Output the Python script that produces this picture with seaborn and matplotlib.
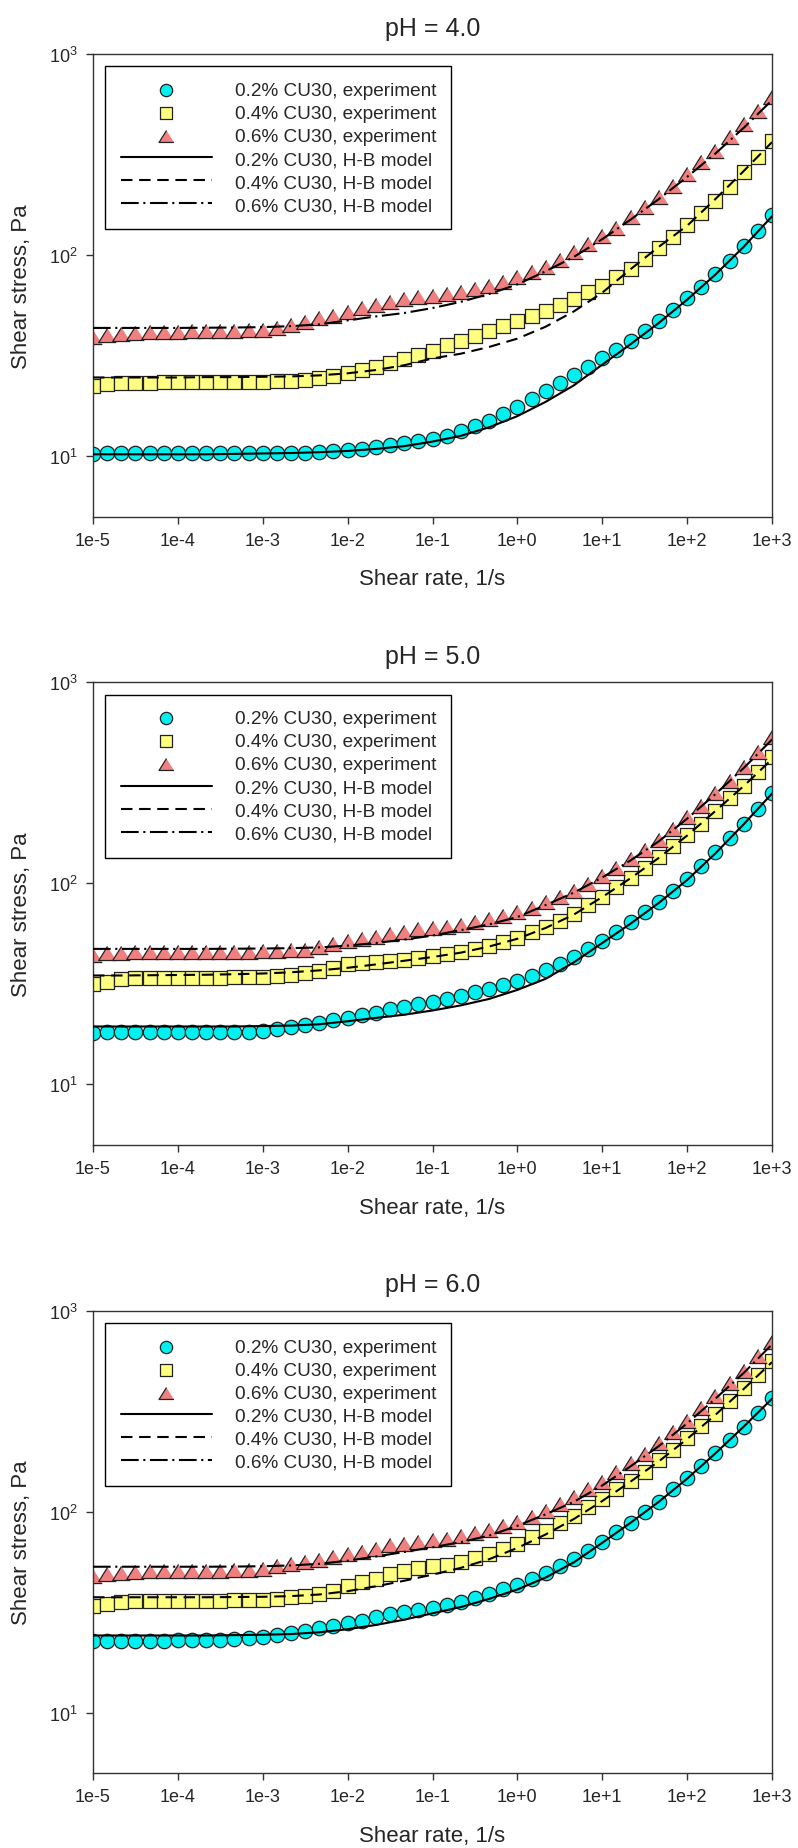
import numpy as np
import pandas as pd
import seaborn as sns
import matplotlib.pyplot as plt
from matplotlib.ticker import FixedLocator, NullLocator

sns.set_style('ticks')
plt.rcParams['font.family'] = ['Liberation Sans', 'DejaVu Sans']

# shear rates of the measurements (6 per decade)
shear_rate = [1.00e-5, 1.47e-5, 2.15e-5, 3.16e-5, 4.64e-5, 6.81e-5,
              1.00e-4, 1.47e-4, 2.15e-4, 3.16e-4, 4.64e-4, 6.81e-4,
              1.00e-3, 1.47e-3, 2.15e-3, 3.16e-3, 4.64e-3, 6.81e-3,
              1.00e-2, 1.47e-2, 2.15e-2, 3.16e-2, 4.64e-2, 6.81e-2,
              1.00e-1, 1.47e-1, 2.15e-1, 3.16e-1, 4.64e-1, 6.81e-1,
              1.00e+0, 1.47e+0, 2.15e+0, 3.16e+0, 4.64e+0, 6.81e+0,
              1.00e+1, 1.47e+1, 2.15e+1, 3.16e+1, 4.64e+1, 6.81e+1,
              1.00e+2, 1.47e+2, 2.15e+2, 3.16e+2, 4.64e+2, 6.81e+2,
              1.00e+3]

# shear rates where the H-B model curves are read
model_rate = [1.00e-5, 2.15e-5, 4.64e-5, 1.00e-4, 2.15e-4, 4.64e-4,
              1.00e-3, 2.15e-3, 4.64e-3, 1.00e-2, 2.15e-2, 4.64e-2,
              1.00e-1, 2.15e-1, 4.64e-1, 1.00e+0, 2.15e+0, 4.64e+0,
              1.00e+1, 2.15e+1, 4.64e+1, 1.00e+2, 2.15e+2, 4.64e+2,
              1.00e+3]

# pH 4.0
exp_02_ph4 = [10.2, 10.3, 10.3, 10.3, 10.3, 10.3, 10.3, 10.3, 10.3, 10.3, 10.3, 10.3, 10.3,
              10.3, 10.4, 10.4, 10.5, 10.6, 10.7, 10.9, 11.1, 11.3, 11.6, 11.9, 12.2,
              12.6, 13.3, 14.1, 15.0, 16.2, 17.5, 19.2, 21.0, 23.1, 25.3, 27.6, 30.6,
              33.8, 37.5, 42.0, 47.1, 53.4, 60.9, 69.1, 80.4, 93.7, 111, 132, 158]
exp_04_ph4 = [22.2, 22.8, 23.1, 23.2, 23.2, 23.3, 23.3, 23.3, 23.3, 23.3, 23.3, 23.3, 23.4,
              23.5, 23.7, 24.0, 24.4, 25.0, 25.8, 26.8, 27.8, 29.1, 30.5, 32.0, 33.4,
              35.7, 37.5, 39.7, 42.0, 44.5, 47.1, 49.9, 52.8, 56.4, 60.4, 65.2, 70.3,
              77.4, 85.1, 95.5, 108, 123, 141, 162, 186, 217, 258, 306, 371]
exp_06_ph4 = [38.9, 40.0, 40.6, 41.0, 41.3, 41.5, 41.6, 41.7, 41.8, 41.9, 42.0, 42.2, 42.5,
              43.6, 44.9, 46.2, 48.4, 49.9, 51.9, 54.3, 56.5, 58.5, 60.3, 61.8, 62.9,
              64.0, 65.7, 67.7, 70.3, 73.6, 77.4, 82.0, 87.5, 94.5, 103, 113, 125,
              137, 154, 173, 194, 221, 253, 289, 330, 385, 449, 522, 609]
hb_02_ph4 = [10.2, 10.2, 10.2, 10.2, 10.2, 10.25, 10.3, 10.35, 10.45, 10.6, 10.85, 11.2,
             11.8, 12.6, 13.9, 15.8, 18.6, 22.5, 28.5, 36.0, 46.0, 60.0, 80.0, 110, 156]
hb_04_ph4 = [24.6, 24.6, 24.6, 24.6, 24.7, 24.7, 24.8, 24.9, 25.2, 25.8, 26.8, 28.3,
             30.6, 32.3, 34.9, 38.4, 44.0, 52.5, 65.0, 85.0, 110, 140, 190, 262, 365]
hb_06_ph4 = [43.4, 43.4, 43.4, 43.4, 43.5, 43.6, 43.8, 44.3, 45.2, 47.3, 49.5, 51.5,
             54.5, 58.5, 64.0, 71.5, 83.0, 98.0, 120, 150, 190, 245, 320, 430, 590]

# pH 5.0
exp_02_ph5 = [18.1, 18.2, 18.2, 18.2, 18.2, 18.2, 18.2, 18.2, 18.2, 18.2, 18.2, 18.2, 18.4,
              18.9, 19.3, 19.7, 20.1, 20.8, 21.4, 22.2, 22.6, 23.6, 24.2, 25.1, 25.8,
              26.6, 27.6, 28.7, 29.8, 31.2, 32.8, 34.7, 37.2, 39.7, 42.9, 47.2, 51.6,
              57.1, 64.0, 71.8, 80.5, 92.0, 105, 122, 143, 168, 198, 235, 281]
exp_04_ph5 = [31.6, 32.4, 33.4, 33.8, 33.9, 33.9, 34.0, 34.0, 34.0, 34.0, 34.1, 34.1, 34.2,
              34.4, 35.0, 35.8, 36.6, 38.0, 39.5, 40.2, 40.6, 41.2, 41.7, 42.3, 43.4,
              44.5, 45.4, 47.2, 48.7, 50.9, 53.3, 57.1, 60.5, 65.3, 70.5, 78.1, 85.9,
              95.7, 106, 119, 135, 153, 174, 198, 230, 265, 306, 360, 424]
exp_06_ph5 = [44.1, 45.0, 45.2, 45.4, 45.4, 45.4, 45.4, 45.4, 45.4, 45.5, 45.6, 45.8, 46.0,
              46.2, 46.5, 46.8, 48.1, 49.9, 51.9, 52.8, 53.9, 56.0, 57.1, 59.3, 60.2,
              60.9, 62.1, 64.0, 66.5, 68.6, 71.8, 75.5, 80.5, 85.3, 92.0, 99.3, 109,
              119, 132, 147, 164, 187, 213, 244, 281, 324, 381, 449, 533]
hb_02_ph5 = [19.4, 19.4, 19.4, 19.4, 19.4, 19.4, 19.5, 19.6, 19.9, 20.6, 21.4, 22.2,
             23.3, 24.7, 26.6, 29.5, 33.5, 40.5, 50.5, 63.0, 80.0, 104, 141, 197, 280]
hb_04_ph5 = [34.8, 34.8, 34.9, 35.0, 35.1, 35.3, 35.6, 36.1, 36.9, 38.0, 39.5, 41.2,
             43.0, 45.2, 48.5, 53.0, 60.0, 70.0, 85.5, 106, 134, 173, 229, 305, 415]
hb_06_ph5 = [47.2, 47.2, 47.2, 47.2, 47.2, 47.3, 47.4, 47.6, 48.0, 49.0, 50.5, 52.5,
             55.0, 58.5, 62.5, 68.0, 78.0, 90.0, 107, 130, 162, 210, 278, 375, 520]

# pH 6.0
exp_02_ph6 = [22.6, 22.8, 22.8, 22.8, 22.8, 22.8, 22.9, 22.9, 23.0, 23.1, 23.2, 23.4, 23.7,
              24.2, 24.9, 25.6, 26.3, 26.9, 27.9, 28.7, 29.8, 31.0, 31.8, 32.5, 33.3,
              34.3, 35.7, 37.1, 39.0, 41.0, 43.2, 46.2, 49.5, 53.5, 58.2, 64.0, 70.9,
              78.9, 87.9, 99.3, 112, 129, 147, 169, 195, 228, 265, 310, 366]
exp_04_ph6 = [34.0, 34.7, 35.4, 35.8, 36.0, 36.1, 36.1, 36.1, 36.1, 36.1, 36.2, 36.3, 36.4,
              36.8, 37.4, 38.0, 39.0, 40.5, 42.6, 44.6, 46.2, 49.0, 50.9, 52.5, 53.4,
              54.4, 56.3, 58.6, 61.6, 65.2, 69.1, 74.6, 80.4, 87.9, 95.5, 105, 116,
              129, 142, 158, 180, 203, 232, 268, 306, 357, 411, 479, 564]
exp_06_ph6 = [48.1, 49.0, 49.6, 50.1, 50.5, 50.7, 50.8, 50.8, 50.8, 50.8, 51.0, 51.4, 52.0,
              53.8, 54.9, 56.0, 57.7, 59.3, 61.6, 62.8, 65.2, 67.9, 69.1, 70.5, 72.0,
              73.2, 75.5, 78.1, 81.4, 84.6, 89.2, 94.4, 101, 109, 118, 129, 141,
              157, 175, 194, 220, 248, 284, 327, 375, 436, 502, 597, 696]
hb_02_ph6 = [24.2, 24.2, 24.2, 24.2, 24.2, 24.3, 24.4, 24.6, 25.1, 26.0, 27.3, 29.0,
             31.2, 33.5, 36.8, 41.0, 47.0, 56.0, 70.0, 88.0, 112, 146, 195, 265, 365]
hb_04_ph6 = [37.5, 37.5, 37.5, 37.5, 37.5, 37.6, 37.7, 38.0, 38.7, 40.2, 42.5, 45.3,
             48.6, 52.5, 58.0, 66.0, 77.0, 92.0, 113, 141, 178, 230, 303, 408, 555]
hb_06_ph6 = [53.2, 53.2, 53.2, 53.2, 53.2, 53.3, 53.5, 54.0, 55.0, 57.0, 59.8, 63.0,
             66.5, 70.5, 76.0, 85.0, 97.0, 112, 135, 168, 212, 275, 365, 490, 680]

titles = ['pH = 4.0', 'pH = 5.0', 'pH = 6.0']
exp_labels = ['0.2% CU30, experiment', '0.4% CU30, experiment', '0.6% CU30, experiment']
hb_labels = ['0.2% CU30, H-B model', '0.4% CU30, H-B model', '0.6% CU30, H-B model']
x_ticks = [1e-5, 1e-4, 1e-3, 1e-2, 1e-1, 1e0, 1e1, 1e2, 1e3]
x_ticklabels = ['1e-5', '1e-4', '1e-3', '1e-2', '1e-1', '1e+0', '1e+1', '1e+2', '1e+3']
y_ticks = [10, 100, 1000]

panels = [
    (titles[0], [exp_02_ph4, exp_04_ph4, exp_06_ph4], [hb_02_ph4, hb_04_ph4, hb_06_ph4]),
    (titles[1], [exp_02_ph5, exp_04_ph5, exp_06_ph5], [hb_02_ph5, hb_04_ph5, hb_06_ph5]),
    (titles[2], [exp_02_ph6, exp_04_ph6, exp_06_ph6], [hb_02_ph6, hb_04_ph6, hb_06_ph6]),
]

tri = [(0, 1), (-1.25, -1), (1.25, -1)]
marker_styles = [('o', 108, '#00F0F0'), ('s', 88, '#FFFF80'), (tri, 160, '#F08080')]
dash_styles = [None, [5.5, 3.2], [8.5, 2.2, 1.0, 2.2]]

fig = plt.figure(figsize=(7.98, 18.49), dpi=100)
bottoms = [0.7201, 0.3803, 0.0405]

for (title, exps, models), b in zip(panels, bottoms):
    ax = fig.add_axes([0.1165, b, 0.851, 0.2501])
    for vals, lab, (mk, sz, col) in zip(exps, exp_labels, marker_styles):
        df = pd.DataFrame({'rate': shear_rate, 'stress': vals})
        sns.scatterplot(data=df, x='rate', y='stress', marker=mk, s=sz, color=col,
                        edgecolor='#222222', linewidth=0.9, label=lab, ax=ax, zorder=2)
    for vals, lab, dsh in zip(models, hb_labels, dash_styles):
        df = pd.DataFrame({'rate': model_rate, 'stress': vals})
        sns.lineplot(data=df, x='rate', y='stress', color='black', lw=1.5,
                     label=lab, ax=ax, zorder=3, sort=False, estimator=None)
        if dsh is not None:
            ax.get_lines()[-1].set_dashes(dsh)

    ax.set_xscale('log')
    ax.set_yscale('log')
    ax.set_xlim(1e-5, 1e3)
    ax.set_ylim(5, 1000)
    ax.xaxis.set_major_locator(FixedLocator(x_ticks))
    ax.set_xticklabels(x_ticklabels)
    ax.xaxis.set_minor_locator(NullLocator())
    ax.yaxis.set_major_locator(FixedLocator(y_ticks))
    ax.yaxis.set_minor_locator(NullLocator())
    ax.tick_params(axis='both', which='major', direction='out', length=5, width=1,
                   labelsize=13, color='#333333', pad=6)
    for sp in ax.spines.values():
        sp.set_visible(True)
        sp.set_linewidth(1.0)
        sp.set_color('#333333')

    ax.set_title(title, fontsize=18, pad=14)
    ax.set_xlabel('Shear rate, 1/s', fontsize=16, labelpad=14)
    ax.set_ylabel('Shear stress, Pa', fontsize=16, labelpad=12)

    handles, labels = ax.get_legend_handles_labels()
    order = [labels.index(l) for l in exp_labels + hb_labels]
    leg = ax.legend([handles[i] for i in order], [labels[i] for i in order],
                    loc='upper left', frameon=True, fancybox=False, edgecolor='black',
                    framealpha=1, fontsize=13.7, handlelength=4.8, handletextpad=1.2,
                    labelspacing=0.3, borderpad=0.8, borderaxespad=0.65, scatterpoints=1,
                    markerscale=0.85)
    leg.get_frame().set_linewidth(1.0)

fig.savefig('out.png', dpi=100)
